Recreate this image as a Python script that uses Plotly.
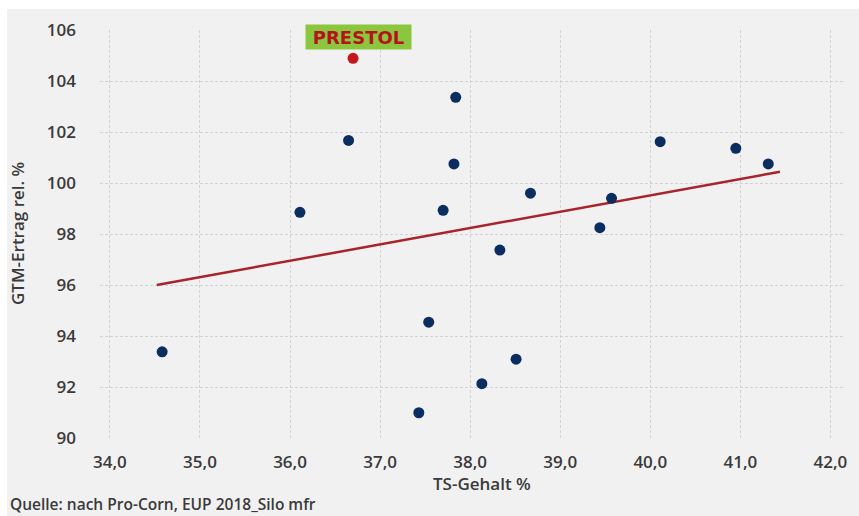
import plotly.graph_objects as go

# Data
ts_gehalt = [34.58, 36.11, 36.65, 37.43, 37.54, 37.70, 37.82, 37.84, 38.13,
             38.33, 38.51, 38.67, 39.44, 39.57, 40.11, 40.95, 41.31]
gtm_ertrag = [93.38, 98.85, 101.67, 90.99, 94.54, 98.93, 100.75, 103.36, 92.13,
              97.37, 93.09, 99.60, 98.25, 99.40, 101.62, 101.36, 100.75]

prestol_x = [36.70]
prestol_y = [104.89]
prestol_label = "PRESTOL"

trend_x = [34.52, 41.44]
trend_y = [96.00, 100.44]

x_ticks = [34, 35, 36, 37, 38, 39, 40, 41, 42]
x_tick_labels = ["34,0", "35,0", "36,0", "37,0", "38,0", "39,0", "40,0", "41,0", "42,0"]
y_ticks = [90, 92, 94, 96, 98, 100, 102, 104, 106]

x_title = "TS-Gehalt %"
y_title = "GTM-Ertrag rel. %"
source_text = "Quelle: nach Pro-Corn, EUP 2018_Silo mfr"

FONT = "Open Sans"
TEXT_COLOR = "#3a3a3a"
W = 600

fig = go.Figure()

fig.add_trace(go.Scatter(x=trend_x, y=trend_y, mode="lines",
                         line=dict(color="#a8232b", width=2.5),
                         showlegend=False, hoverinfo="skip"))
fig.add_trace(go.Scatter(x=ts_gehalt, y=gtm_ertrag, mode="markers",
                         marker=dict(color="#0c2d5f", size=11),
                         showlegend=False))
fig.add_trace(go.Scatter(x=prestol_x, y=prestol_y, mode="markers",
                         marker=dict(color="#c3161d", size=11),
                         showlegend=False))

fig.add_annotation(x=prestol_x[0], y=prestol_y[0], xref="x", yref="y",
                   text="<b>" + prestol_label + "</b>", showarrow=False,
                   xshift=5, yshift=21, width=105, height=24, align="center",
                   bgcolor="#8cc63f", borderpad=0,
                   font=dict(family="DejaVu Sans", size=18, color="#b3141c"))

# axis titles
fig.add_annotation(x=0.514, y=-0.1127, xref="paper", yref="paper",
                   text=x_title, showarrow=False,
                   xanchor="center", yanchor="middle",
                   font=dict(family=FONT, size=17, color=TEXT_COLOR, weight=W))
fig.add_annotation(x=-0.1117, y=0.5, xref="paper", yref="paper",
                   text=y_title, showarrow=False, textangle=-90,
                   xanchor="center", yanchor="middle",
                   font=dict(family=FONT, size=17, color=TEXT_COLOR, weight=W))

fig.add_annotation(x=-0.1225, y=-0.162, xref="paper", yref="paper",
                   text=source_text, showarrow=False,
                   xanchor="left", yanchor="middle", borderpad=0,
                   font=dict(family=FONT, size=15.5, color=TEXT_COLOR, weight=W))

# light grey panel below the white strip at the top
fig.add_shape(type="rect", xref="paper", yref="paper",
              x0=-0.125, x1=1.05, y0=-0.3, y1=1.0515,
              fillcolor="#f1f1f1", line=dict(width=0), layer="below")

fig.update_layout(
    width=859, height=516,
    margin=dict(l=100, r=16, t=30, b=78),
    paper_bgcolor="white",
    plot_bgcolor="rgba(0,0,0,0)",
    font=dict(family=FONT, color=TEXT_COLOR),
    xaxis=dict(range=[33.89, 42.14], tickvals=x_ticks, ticktext=x_tick_labels,
               showgrid=True, gridcolor="#d2d2d2", griddash="3px,2px", gridwidth=1,
               zeroline=False, showline=False, ticks="",
               ticklabelstandoff=12,
               tickfont=dict(family=FONT, size=17, color=TEXT_COLOR, weight=W)),
    yaxis=dict(range=[90, 106], tickvals=y_ticks,
               showgrid=True, gridcolor="#d2d2d2", griddash="3px,2px", gridwidth=1,
               zeroline=False, showline=False, ticks="",
               ticklabelstandoff=23,
               tickfont=dict(family=FONT, size=17, color=TEXT_COLOR, weight=W)),
)

fig.write_html("out.html", config={"displayModeBar": False},
               post_script="document.body.style.margin='0';document.body.style.overflow='hidden';")
